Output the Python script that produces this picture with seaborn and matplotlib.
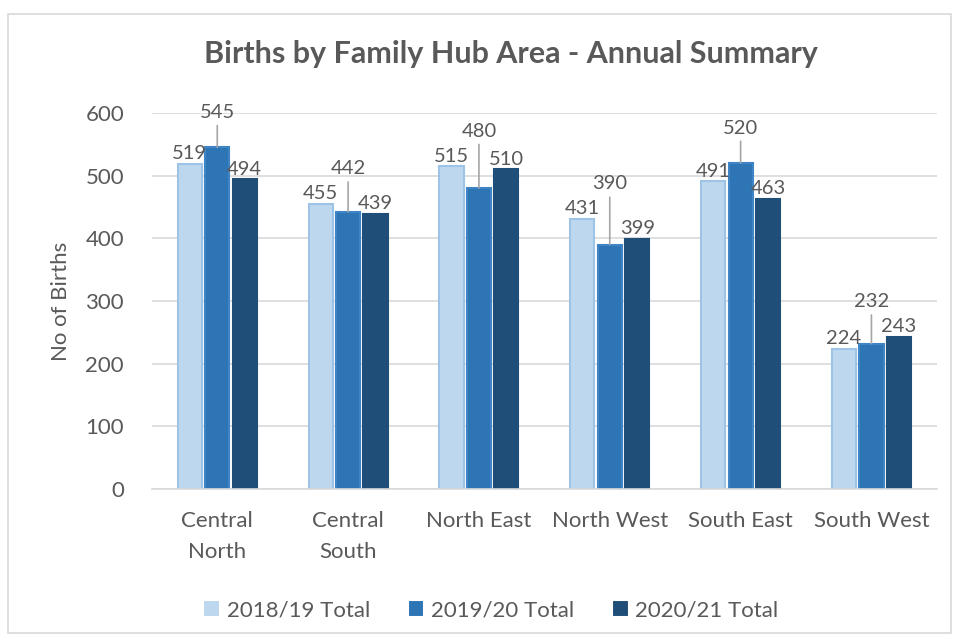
import pandas as pd
import matplotlib.pyplot as plt
import seaborn as sns
from matplotlib.patches import Rectangle
from matplotlib.transforms import offset_copy

# --- Données ---
areas = ["Central\nNorth", "Central\nSouth", "North East", "North West", "South East", "South West"]
years = ["2018/19 Total", "2019/20 Total", "2020/21 Total"]
births_1819 = [519, 455, 515, 431, 491, 224]
births_1920 = [545, 442, 480, 390, 520, 232]
births_2021 = [494, 439, 510, 399, 463, 243]

fill_colors = ["#BDD7EE", "#2E75B6", "#1F4E79"]
edge_colors = ["#9DC3E6", "#3F84C4", "#1F4E79"]
grey = "#595959"

df = pd.DataFrame({
    "area": areas * 3,
    "year": [y for y in years for _ in areas],
    "births": births_1819 + births_1920 + births_2021,
})

# --- Style ---
sns.set_style("white")
plt.rcParams["font.family"] = ["Lato", "DejaVu Sans"]

fig = plt.figure(figsize=(9.55, 6.41), dpi=100)
ax = fig.add_axes([0.159, 0.237, 0.822, 0.587])

sns.barplot(data=df, x="area", y="births", hue="year", palette=fill_colors,
            saturation=1, width=0.63, gap=0.12, linewidth=1.5, ax=ax)

for cont, ec in zip(ax.containers, edge_colors):
    for bar in cont:
        bar.set_edgecolor(ec)

ax.set_ylim(0, 600)
ax.set_yticks(range(0, 601, 100))
ax.yaxis.grid(True, color="#D9D9D9", linewidth=1.2)
ax.set_axisbelow(True)
for s in ["left", "right", "top"]:
    ax.spines[s].set_visible(False)
ax.spines["bottom"].set_color("#D9D9D9")
ax.spines["bottom"].set_linewidth(1.2)
ax.tick_params(axis="y", length=0, labelsize=16, labelcolor=grey, pad=20)
ax.tick_params(axis="x", length=0, labelsize=16, labelcolor=grey, pad=16)
for lab in ax.get_xticklabels():
    lab.set_linespacing(1.65)
ax.set_xlabel("")
ax.set_ylabel("No of Births", fontsize=16, color=grey, labelpad=10)

# --- Étiquettes ---
series = [births_1819, births_1920, births_2021]
c0, c1, c2 = ax.containers
for i in range(len(areas)):
    top = max(series[0][i], series[1][i], series[2][i])
    for cont, vals in [(c0, series[0]), (c2, series[2])]:
        b = cont[i]
        ax.annotate(str(vals[i]), (b.get_x() + b.get_width() / 2, vals[i]),
                    xytext=(0, 1), textcoords="offset points", ha="center",
                    va="bottom", fontsize=14.5, color=grey, annotation_clip=False)
    b = c1[i]
    xc = b.get_x() + b.get_width() / 2
    tr = offset_copy(ax.transData, fig=fig, x=0, y=19, units="points")
    ax.annotate(str(series[1][i]), xy=(xc, series[1][i]), xytext=(xc, top),
                textcoords=tr, ha="center", va="bottom", fontsize=14.5, color=grey,
                annotation_clip=False,
                arrowprops=dict(arrowstyle="-", color="#A6A6A6", lw=1.2,
                                shrinkA=1, shrinkB=0, relpos=(0.5, 0)))

ax.set_title("Births by Family Hub Area - Annual Summary", fontsize=22,
             fontweight="bold", color=grey, pad=36, x=0.458)

handles, labels = ax.get_legend_handles_labels()
ax.legend(handles, labels, loc="center", bbox_to_anchor=(0.514, 0.048),
          bbox_transform=fig.transFigure,
          ncol=3, frameon=False, fontsize=16, labelcolor=grey,
          handlelength=0.75, handleheight=0.75, handletextpad=0.3, columnspacing=1.7)

fig.patches.append(Rectangle((0.008, 0.013), 0.988, 0.965, transform=fig.transFigure,
                             fill=False, edgecolor="#D9D9D9", linewidth=1.2))

plt.savefig("out.png", dpi=100)
